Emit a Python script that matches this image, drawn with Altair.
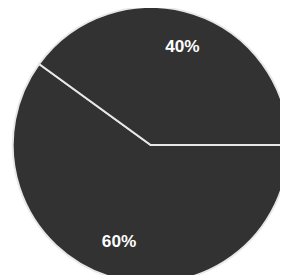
import math
import altair as alt
import pandas as pd

labels = ["60%", "40%"]
values = [60, 40]
order = [0, 1]

df = pd.DataFrame({"label": labels, "value": values, "order": order})

start = math.pi / 2
base = alt.Chart(df).encode(
    theta=alt.Theta("value:Q", stack=True,
                    scale=alt.Scale(range=[start, start + 2 * math.pi])),
    order=alt.Order("order:Q"),
    x=alt.value(149),
    y=alt.value(137),
)

arcs = base.mark_arc(outerRadius=144, fill="#323232", stroke="#e8e8e8", strokeWidth=2)
text = base.mark_text(radius=107, fontSize=18, fill="white",
                      font="Liberation Sans", fontWeight="bold").encode(text="label:N")

chart = (arcs + text).properties(
    width=284, height=274, padding=0, autosize="none", background="white"
).configure_view(stroke=None)

chart.save("out.html", embed_options={"renderer": "svg", "actions": False})
